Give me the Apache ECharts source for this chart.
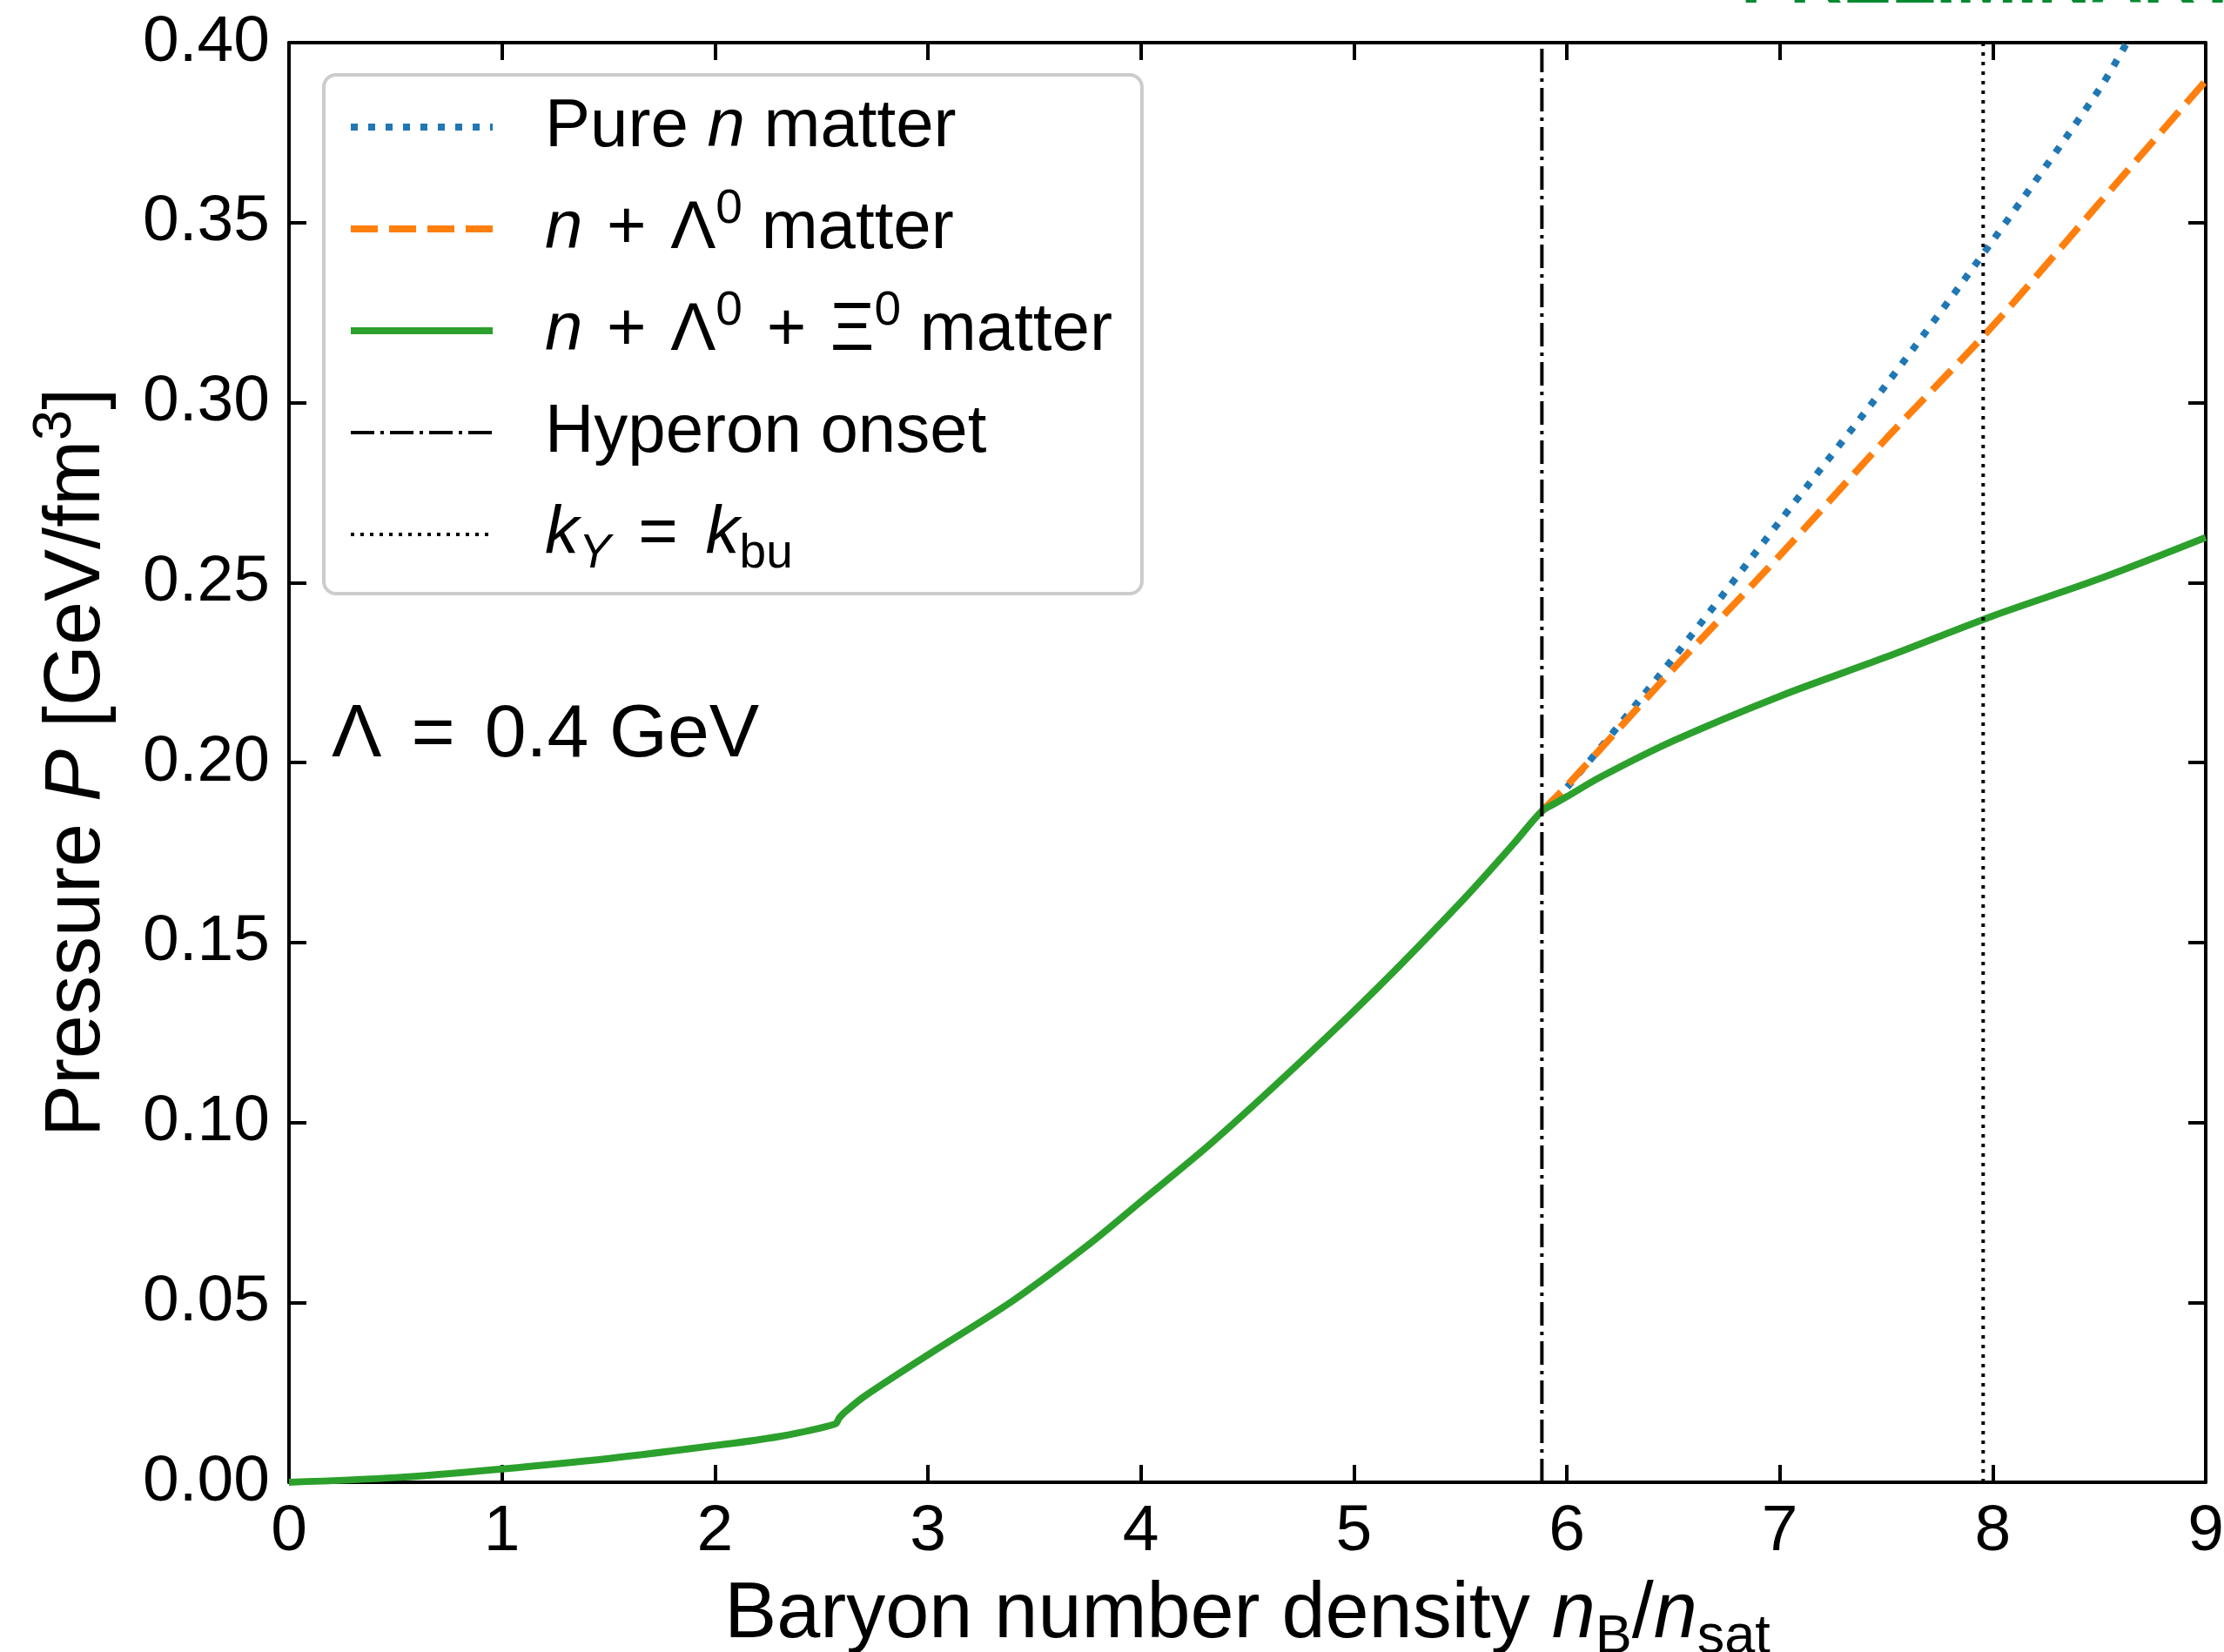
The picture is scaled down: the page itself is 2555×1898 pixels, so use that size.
<!DOCTYPE html>
<html>
<head>
<meta charset="utf-8">
<script src="https://cdn.jsdelivr.net/npm/echarts@6/dist/echarts.min.js"></script>
<style>
  html, body { margin: 0; padding: 0; background: #fff; }
  #chart { width: 2555px; height: 1898px; }
</style>
</head>
<body>
<div id="chart"></div>
<script>
// values (n_B / n_sat, pressure in GeV/fm^3)
const pureN_nB = [5.883, 6.0, 6.5, 7.0, 7.5, 8.0, 8.5, 8.63];
const pureN_P = [0.1865, 0.193, 0.229, 0.267, 0.305, 0.345, 0.387, 0.400];

const nLam_nB = [5.883, 6.0, 6.5, 7.0, 7.5, 8.0, 8.5, 9.0];
const nLam_P = [0.1865, 0.1935, 0.226, 0.2575, 0.290, 0.3213, 0.3554, 0.3894];

const nLamXi_nB = [0, 0.5, 1.0, 1.5, 2.0, 2.3, 2.565, 2.585, 2.62, 2.7, 3.0, 3.4, 3.76, 4.0, 4.33, 4.74,
  5.13, 5.52, 5.75, 5.883, 5.95, 6.0, 6.16, 6.5, 7.0, 7.5, 8.0, 8.5, 9.0];
const nLamXi_P = [0, 0.0013, 0.0037, 0.0066, 0.0102, 0.0127, 0.0162, 0.0180, 0.0200, 0.0238, 0.0354, 0.0505,
  0.0663, 0.0780, 0.0942, 0.1163, 0.1385, 0.1623, 0.1774, 0.1865, 0.1888, 0.1905, 0.196, 0.206, 0.2184,
  0.2293, 0.2407, 0.251, 0.2625];

const onsetDensity = 5.883;   // hyperon onset
const kbuDensity = 7.955;     // k_Y = k_bu

const xMin = 0, xMax = 9, xStep = 1;
const yMin = 0, yMax = 0.40, yStep = 0.05;

const legendLabels = {
  'Pure n matter': 'Pure {i|n} matter',
  'n + Λ0 matter': '{i|n} {op|+} Λ{sup|0} matter',
  'n + Λ0 + Ξ0 matter': '{i|n} {op|+} Λ{sup|0} {op|+} Ξ{sup|0} matter',
  'Hyperon onset': 'Hyperon onset',
  'kY = kbu': '{i|k}{subi|Y} {eq|=} {i|k}{sub|bu}'
};

const FONT = 'Liberation Sans';
const zip = (xs, ys) => xs.map((x, i) => [x, ys[i]]);

const chart = echarts.init(document.getElementById('chart'));

const legendRich = {
  i: { fontStyle: 'italic', fontSize: 78, lineHeight: 100, fontFamily: FONT },
  op: { fontSize: 78, lineHeight: 100, fontFamily: FONT, padding: [0, 6, 0, 6] },
  eq: { fontSize: 78, lineHeight: 100, fontFamily: FONT, padding: [0, 10, 0, 10] },
  sup: { fontSize: 55, lineHeight: 55, verticalAlign: 'top', fontFamily: FONT },
  sub: { fontSize: 55, lineHeight: 55, verticalAlign: 'bottom', fontFamily: FONT },
  subi: { fontSize: 55, lineHeight: 55, verticalAlign: 'bottom', fontStyle: 'italic', fontFamily: FONT }
};

const labelRich = {
  i: { fontStyle: 'italic', fontSize: 90, lineHeight: 114, fontFamily: FONT },
  sup: { fontSize: 63, lineHeight: 63, verticalAlign: 'top', fontFamily: FONT },
  sub: { fontSize: 63, lineHeight: 70, verticalAlign: 'bottom', fontFamily: FONT }
};

const axisLine = { show: true, onZero: false, lineStyle: { color: '#000', width: 4 } };
const axisTick = { show: true, inside: true, length: 20, lineStyle: { color: '#000', width: 4 } };

const vline = (x) => [[x, yMin], [x, yMax]];

const legendItem = (name, color, width, type) => ({
  name: name,
  lineStyle: { color: color, width: width, type: type, cap: 'butt' },
  itemStyle: { opacity: 0 }
});

const option = {
  animation: false,
  backgroundColor: '#fff',
  grid: { left: 332, right: 21, top: 49, bottom: 195, containLabel: false, outerBoundsMode: 'none' },
  xAxis: [
    {
      type: 'value', min: xMin, max: xMax, interval: xStep, position: 'bottom',
      axisLine: axisLine, axisTick: axisTick, splitLine: { show: false },
      axisLabel: { color: '#000', fontSize: 75, fontFamily: FONT, margin: 20, showMinLabel: true, showMaxLabel: true },
      name: 'Baryon number density {i|n}{sub|B}/{i|n}{sub|sat}',
      nameLocation: 'middle', nameGap: 96, nameMoveOverlap: false,
      nameTextStyle: { color: '#000', fontSize: 90, lineHeight: 114, fontFamily: FONT, rich: labelRich }
    },
    {
      type: 'value', min: xMin, max: xMax, interval: xStep, position: 'top',
      axisLine: axisLine, axisTick: axisTick, splitLine: { show: false },
      axisLabel: { show: false }
    }
  ],
  yAxis: [
    {
      type: 'value', min: yMin, max: yMax, interval: yStep, position: 'left',
      axisLine: axisLine, axisTick: axisTick, splitLine: { show: false },
      axisLabel: {
        color: '#000', fontSize: 75, fontFamily: FONT, margin: 22, showMinLabel: true, showMaxLabel: true,
        formatter: v => v.toFixed(2)
      },
      name: 'Pressure {i|P} [GeV/fm{sup|3}]',
      nameLocation: 'middle', nameGap: 186, nameRotate: 90,
      nameTextStyle: { color: '#000', fontSize: 90, lineHeight: 114, fontFamily: FONT, rich: labelRich }
    },
    {
      type: 'value', min: yMin, max: yMax, interval: yStep, position: 'right',
      axisLine: axisLine, axisTick: axisTick, splitLine: { show: false },
      axisLabel: { show: false }
    }
  ],
  legend: {
    orient: 'vertical', left: 372, top: 86,
    padding: [10, 34, 18, 27],
    itemWidth: 163, itemHeight: 20, itemGap: 17,
    selectedMode: false,
    backgroundColor: 'rgba(255,255,255,0.8)',
    borderColor: '#cccccc', borderWidth: 4, borderRadius: 14,
    textStyle: { color: '#000', fontSize: 78, lineHeight: 100, fontFamily: FONT, padding: [0, 0, 0, 55], rich: legendRich },
    formatter: name => legendLabels[name],
    data: [
      legendItem('Pure n matter', '#1f77b4', 8, [8, 12]),
      legendItem('n + Λ0 matter', '#ff7f0e', 8, [31, 13]),
      legendItem('n + Λ0 + Ξ0 matter', '#2ca02c', 8, 'solid'),
      legendItem('Hyperon onset', '#000', 4, [27, 7, 4, 7]),
      legendItem('kY = kbu', '#000', 4, [4, 7])
    ]
  },
  graphic: [
    {
      type: 'text', left: 381, top: 845 - 50,
      style: {
        text: 'Λ{eq|=}0.4 GeV', fontSize: 86, fontFamily: FONT, fill: '#000', lineHeight: 100,
        rich: { eq: { fontSize: 86, lineHeight: 100, fontFamily: FONT, padding: [0, 34, 0, 34] } }
      }
    },
    {
      type: 'text', x: 2000, y: 22,
      style: { text: 'PRELIMINARY', fontSize: 84, fontWeight: 'bold', fontFamily: FONT, fill: '#008a30',
        verticalAlign: 'bottom', align: 'left' }
    }
  ],
  series: [
    {
      name: 'Pure n matter', type: 'line', data: zip(pureN_nB, pureN_P),
      symbol: 'none', smooth: 0.3, z: 2,
      lineStyle: { color: '#1f77b4', width: 8, type: [8, 12], cap: 'butt' },
      itemStyle: { color: '#1f77b4' }
    },
    {
      name: 'n + Λ0 matter', type: 'line', data: zip(nLam_nB, nLam_P),
      symbol: 'none', smooth: 0.3, z: 3,
      lineStyle: { color: '#ff7f0e', width: 8, type: [31, 13], cap: 'butt' },
      itemStyle: { color: '#ff7f0e' }
    },
    {
      name: 'n + Λ0 + Ξ0 matter', type: 'line', data: zip(nLamXi_nB, nLamXi_P),
      symbol: 'none', smooth: 0.3, z: 4,
      lineStyle: { color: '#2ca02c', width: 8, type: 'solid' },
      itemStyle: { color: '#2ca02c' }
    },
    {
      name: 'Hyperon onset', type: 'line', data: vline(onsetDensity),
      symbol: 'none', z: 5,
      lineStyle: { color: '#000', width: 4, type: [27, 7, 4, 7], cap: 'butt' },
      itemStyle: { color: '#000' }
    },
    {
      name: 'kY = kbu', type: 'line', data: vline(kbuDensity),
      symbol: 'none', z: 5,
      lineStyle: { color: '#000', width: 4, type: [4, 7], cap: 'butt' },
      itemStyle: { color: '#000' }
    }
  ]
};

chart.setOption(option);
</script>
</body>
</html>
